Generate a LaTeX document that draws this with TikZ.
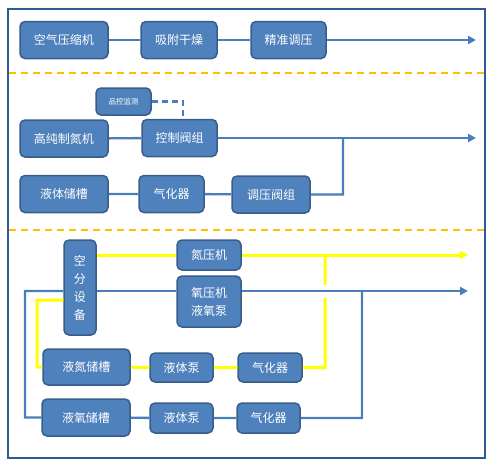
\documentclass[tikz,border=0pt]{standalone}
\usepackage{fontspec}
\setmainfont{Noto Sans CJK SC}
\usetikzlibrary{arrows.meta}
\definecolor{boxfill}{HTML}{4F81BD}
\definecolor{boxline}{HTML}{385D8A}
\definecolor{flowblue}{HTML}{4A7EBB}
\definecolor{flowyellow}{HTML}{FFFF00}
\definecolor{sepline}{HTML}{FFC000}
\definecolor{framecol}{HTML}{2F5A96}
\begin{document}
\begin{tikzpicture}[
    x = 1pt, y = -1pt,
    unit/.style = {draw = boxline, fill = boxfill, line width = 1.5pt,
        rounded corners = 5pt, text = white, inner sep = 0pt, align = center,
        font = \fontsize{12}{18}\selectfont},
    bluepipe/.style = {draw = flowblue, line width = 2.4pt},
    yellowpipe/.style = {draw = flowyellow, line width = 3pt},
    outlet/.style = {-{Triangle[length = 8pt, width = 8pt]}},
    sepdash/.style = {draw = sepline, line width = 2.2pt, dash pattern = on 7pt off 5pt}]

\useasboundingbox (0,0) rectangle (499,471);
\draw[framecol, line width = 1.8pt] (8,9) rectangle (485,458);
\draw[sepdash] (9,73) -- (484,73)
	  (9,230) -- (484,230);

\node[unit, minimum width = 88, minimum height = 37] (air) at (64,40) {空气压缩机};
\node[unit, minimum width = 76, minimum height = 37] (dry) at (179,40) {吸附干燥};
\node[unit, minimum width = 75, minimum height = 37] (reg) at (288.5,40) {精准调压};

\node[unit, minimum width = 55, minimum height = 27, font = \fontsize{7.5}{9}\selectfont] (qc) at (123.5,101.5) {品控监测};
\node[unit, minimum width = 88, minimum height = 37] (gen) at (64,138.5) {高纯制氮机};
\node[unit, minimum width = 75, minimum height = 37] (ctrl) at (179.5,138) {控制阀组};
\node[unit, minimum width = 88, minimum height = 37] (tank) at (64,194) {液体储槽};
\node[unit, minimum width = 65, minimum height = 37] (vap) at (171.5,194) {气化器};
\node[unit, minimum width = 78, minimum height = 37] (prv) at (271,194.5) {调压阀组};

\node[unit, minimum width = 32, minimum height = 95] (asu) at (80,287.5) {空\\分\\设\\备};
\node[unit, minimum width = 64, minimum height = 30] (ncomp) at (209,255) {氮压机};
\node[unit, minimum width = 64, minimum height = 51] (ocomp) at (209,301.5) {氧压机\\液氧泵};
\node[unit, minimum width = 87, minimum height = 36] (lnt) at (86.5,367) {液氮储槽};
\node[unit, minimum width = 63, minimum height = 29] (npump) at (181.5,367.5) {液体泵};
\node[unit, minimum width = 64, minimum height = 29] (nvap) at (270,367.5) {气化器};
\node[unit, minimum width = 88, minimum height = 37] (lot) at (86,417.5) {液氧储槽};
\node[unit, minimum width = 63, minimum height = 30] (opump) at (181.5,418) {液体泵};
\node[unit, minimum width = 63, minimum height = 30] (ovap) at (268.5,418) {气化器};

\coordinate (endA) at (476,0);
\coordinate (endB) at (468,0);
\coordinate (riseA) at (343,0);
\coordinate (riseN) at (325,0);
\coordinate (riseO) at (362,0);
\coordinate (oline) at (0,291);
\coordinate (nline) at (0,300);
\coordinate (ndrop) at (37,0);
\coordinate (odrop) at (25,0);

\draw[bluepipe] (air) -- (dry)
	  (dry) -- (reg);
\draw[bluepipe, outlet] (reg) -- (reg -| endA);

\draw[bluepipe, dash pattern = on 6pt off 4pt] (qc.east) -| ([xshift = 3.5]ctrl.north);
\draw[bluepipe] (gen) -- (ctrl);
\draw[bluepipe, outlet] (ctrl) -- (ctrl -| endA);
\draw[bluepipe] (tank) -- (vap)
	  (vap) -- (prv)
	  (prv.east) -| (riseA |- ctrl);

\draw[yellowpipe] (asu.east |- ncomp) -- (ncomp);
\draw[yellowpipe, outlet] (ncomp) -- (ncomp -| endB);
\draw[yellowpipe] (asu.west |- nline) -| (ndrop |- lnt) -- (lnt.west)
	  (lnt) -- (npump)
	  (npump) -- (nvap)
	  (nvap.east) -| (riseN |- ncomp);

\draw[bluepipe] (asu.east |- oline) -- (ocomp.west |- oline);
\draw[bluepipe, outlet, preaction = {draw = white, line width = 13pt, -}] (ocomp.east |- oline) -- (endB |- oline);
\draw[bluepipe] (asu.west |- oline) -| (odrop |- lot) -- (lot.west)
	  (lot) -- (opump)
	  (opump) -- (ovap)
	  (ovap.east) -| (riseO |- oline);
\end{tikzpicture}
\end{document}
